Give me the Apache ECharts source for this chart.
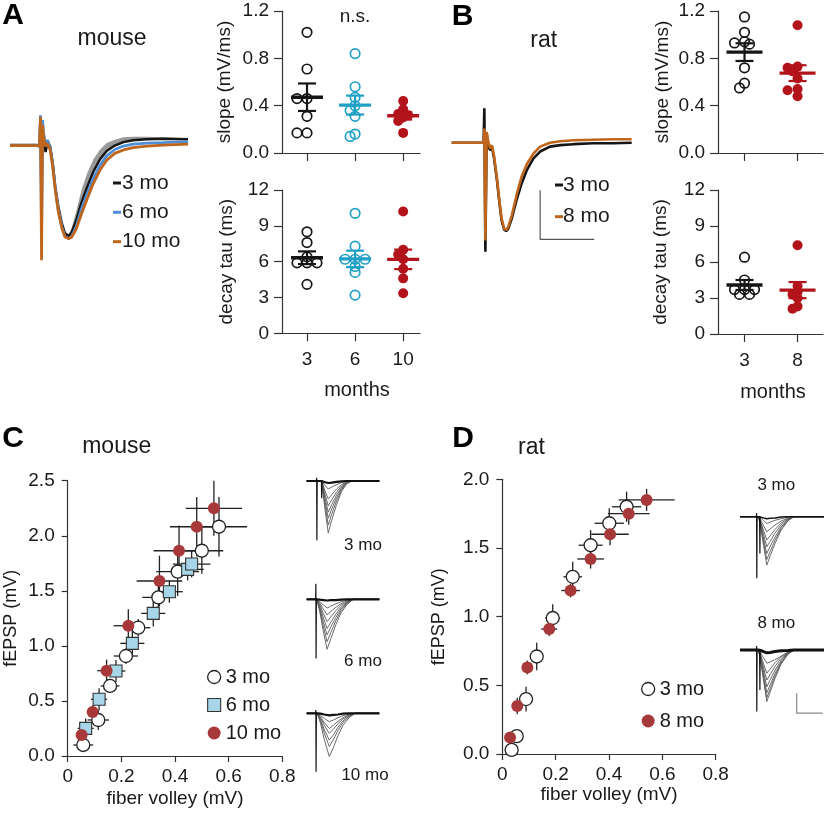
<!DOCTYPE html>
<html><head><meta charset="utf-8">
<script src="https://cdn.jsdelivr.net/npm/echarts@6/dist/echarts.min.js"></script>
<style>html,body{margin:0;padding:0;background:#fff}#c{width:828px;height:821px}</style>
</head><body><div id="c"></div>
<script>
const FONT = "'Liberation Sans', Arial, Helvetica, sans-serif";
const AX = '#333';
const TXT = '#1a1a1a';

// ---------- Panel A: mouse averaged fEPSP traces (ms, mV) ----------
const traceTimeA = [0, 5.2, 5.8, 6.0, 6.2, 6.4, 6.6, 7.0, 7.4, 7.9, 8.4, 8.9, 9.5, 10.2, 10.8, 11.5, 12.1, 13.0, 14.1, 15.2, 16.4, 17.7, 19.0, 20.6, 22.3, 24.2, 26.9, 30.1, 35];
const trace3moA = [0, 0, -0.01, 0.58, -1.39, 0.37, 0.10, -0.14, 0.07, -0.03, -0.37, -0.85, -1.26, -1.60, -1.80, -1.86, -1.79, -1.54, -1.16, -0.85, -0.54, -0.29, -0.12, -0.01, 0.06, 0.10, 0.12, 0.13, 0.12];
const sem3moA = [0, 0, 0, 0, 0, 0, 0, 0, 0, 0, 0, 0, 0, 0.02, 0.03, 0.04, 0.08, 0.18, 0.26, 0.28, 0.25, 0.2, 0.16, 0.12, 0.1, 0.07, 0.05, 0.03, 0.02];
const trace6moA = [-0.01, -0.01, -0.02, 0.61, -1.80, 0.51, 0.24, 0.03, 0.10, -0.07, -0.41, -0.88, -1.33, -1.67, -1.86, -1.91, -1.87, -1.67, -1.29, -0.99, -0.68, -0.41, -0.22, -0.09, -0.02, 0.02, 0.04, 0.05, 0.07];
const trace10moA = [-0.01, -0.01, -0.02, 0.58, -2.35, 0.41, 0.17, -0.03, 0.03, -0.10, -0.44, -0.92, -1.36, -1.70, -1.87, -1.91, -1.88, -1.72, -1.39, -1.09, -0.78, -0.51, -0.31, -0.17, -0.10, -0.05, -0.02, 0.00, 0.02];

// ---------- Panel B: rat averaged fEPSP traces ----------
const traceTimeB = [0, 5.5, 6.2, 6.35, 6.55, 6.8, 7.1, 7.5, 7.8, 8.2, 8.8, 9.3, 9.7, 10.2, 10.6, 11.0, 11.7, 12.6, 13.6, 14.6, 15.9, 17.2, 19.1, 21.1, 23.7, 27.5, 31.4, 35];
const trace3moB = [0, 0, 0, 0.70, -2.22, 0.19, -0.08, -0.15, -0.08, -0.29, -0.76, -1.24, -1.58, -1.77, -1.80, -1.75, -1.54, -1.17, -0.83, -0.56, -0.32, -0.18, -0.08, -0.05, -0.03, -0.01, -0.01, 0];
const trace8moB = [0, 0, 0, 0.29, -1.99, 0.22, 0.02, -0.12, -0.05, -0.25, -0.73, -1.20, -1.54, -1.75, -1.78, -1.71, -1.48, -1.07, -0.69, -0.44, -0.22, -0.08, 0, 0.03, 0.05, 0.06, 0.07, 0.07];
const scaleBarB_t = [17.2, 17.2, 27.7];
const scaleBarB_v = [-0.97, -1.97, -1.97];

// ---------- Dot plots ----------
const monthsMouse = ['3', '6', '10'];
const monthsRat = ['3', '8'];
const slopeMouse3 = [1.02, 0.71, 0.46, 0.46, 0.31, 0.17, 0.17];
const slopeMouse6 = [0.84, 0.56, 0.47, 0.40, 0.36, 0.31, 0.16, 0.14];
const slopeMouse10 = [0.44, 0.37, 0.33, 0.32, 0.30, 0.27, 0.17];
const tauMouse3 = [8.5, 7.6, 6.4, 5.9, 5.9, 5.9, 4.1];
const tauMouse6 = [10.05, 7.3, 6.2, 6.2, 6.2, 5.6, 5.1, 3.2];
const tauMouse10 = [10.2, 7.0, 6.6, 6.2, 5.4, 4.6, 3.35];
const slopeRat3 = [1.15, 1.02, 0.94, 0.93, 0.92, 0.72, 0.59, 0.55];
const slopeRat8 = [1.08, 0.73, 0.72, 0.69, 0.63, 0.54, 0.53, 0.48];
const tauRat3 = [6.4, 4.5, 3.7, 3.7, 3.7, 3.3, 3.3];
const tauRat8 = [7.4, 4.0, 3.5, 3.3, 3.0, 2.3, 2.1];

// ---------- Panel C: mouse input-output (fiber volley vs fEPSP, mean ± SEM) ----------
const c3x = [0.058, 0.114, 0.158, 0.217, 0.263, 0.338, 0.41, 0.50, 0.564];
const c3y = [0.10, 0.327, 0.636, 0.908, 1.165, 1.44, 1.674, 1.864, 2.082];
const c3xe = [0.037, 0.04, 0.035, 0.045, 0.045, 0.06, 0.08, 0.08, 0.105];
const c3ye = [0.03, 0.09, 0.06, 0.07, 0.08, 0.15, 0.22, 0.21, 0.27];
const c6x = [0.067, 0.117, 0.18, 0.241, 0.319, 0.379, 0.447, 0.462];
const c6y = [0.251, 0.515, 0.772, 1.023, 1.295, 1.492, 1.695, 1.743];
const c6xe = [0.03, 0.03, 0.035, 0.045, 0.045, 0.05, 0.06, 0.07];
const c6ye = [0.09, 0.1, 0.1, 0.12, 0.12, 0.1, 0.1, 0.12];
const c10x = [0.052, 0.093, 0.145, 0.226, 0.342, 0.415, 0.481, 0.545];
const c10y = [0.19, 0.40, 0.775, 1.183, 1.589, 1.864, 2.082, 2.249];
const c10xe = [0.02, 0.02, 0.035, 0.055, 0.085, 0.095, 0.1, 0.105];
const c10ye = [0.05, 0.06, 0.1, 0.15, 0.23, 0.23, 0.27, 0.25];

// ---------- Panel D: rat input-output ----------
const d3x = [0.035, 0.054, 0.089, 0.129, 0.189, 0.264, 0.331, 0.401, 0.466];
const d3y = [0.03, 0.13, 0.40, 0.71, 0.99, 1.29, 1.52, 1.68, 1.80];
const d3xe = [0.01, 0.012, 0.018, 0.02, 0.028, 0.035, 0.045, 0.055, 0.055];
const d3ye = [0.02, 0.03, 0.09, 0.1, 0.1, 0.11, 0.11, 0.11, 0.11];
const d8x = [0.029, 0.056, 0.094, 0.176, 0.256, 0.331, 0.404, 0.474, 0.541];
const d8y = [0.12, 0.35, 0.63, 0.91, 1.19, 1.42, 1.60, 1.75, 1.85];
const d8xe = [0.01, 0.015, 0.02, 0.03, 0.035, 0.05, 0.07, 0.078, 0.105];
const d8ye = [0.02, 0.06, 0.05, 0.05, 0.05, 0.07, 0.08, 0.08, 0.08];

// ---------- Example input-output trace families ----------
const ioTimeC3 = [0, 7.4, 9.1, 10.7, 12.4, 14.8, 17.3, 19.8, 22.3, 36];
const ioTracesC3 = [
  [0, 0, -0.03, -0.05, -0.04, -0.02, -0.01, 0, 0, 0],
  [0, 0, -0.11, -0.2, -0.15, -0.09, -0.04, -0.01, 0, 0],
  [0, 0, -0.25, -0.45, -0.34, -0.2, -0.09, -0.02, 0, 0],
  [0, 0, -0.34, -0.62, -0.47, -0.28, -0.12, -0.03, 0, 0],
  [0, 0, -0.43, -0.78, -0.59, -0.35, -0.16, -0.04, 0, 0],
  [0, 0, -0.51, -0.93, -0.7, -0.42, -0.19, -0.05, 0, 0],
  [0, 0, -0.61, -1.1, -0.83, -0.5, -0.22, -0.06, 0, 0],
  [0, 0, -0.72, -1.3, -0.98, -0.59, -0.26, -0.07, 0, 0]
];
const ioArtC3_t = [4.8, 4.95, 5.05, 5.2, 7.3, 7.45, 7.6];
const ioArtC3_v = [0, 0.08, -1.48, 0, 0, -0.43, 0];

const ioTimeC6 = [0, 5.0, 6.5, 8.3, 10.1, 12, 14.5, 17, 20, 23, 36];
const ioTracesC6 = [
  [0, 0, -0.01, -0.02, -0.03, -0.02, -0.02, -0.01, 0, 0, 0],
  [0, 0, -0.06, -0.14, -0.22, -0.17, -0.11, -0.06, -0.02, 0, 0],
  [0, 0, -0.1, -0.25, -0.39, -0.3, -0.2, -0.11, -0.04, 0, 0],
  [0, 0, -0.14, -0.36, -0.56, -0.44, -0.28, -0.15, -0.06, 0, 0],
  [0, 0, -0.18, -0.47, -0.73, -0.57, -0.37, -0.2, -0.07, 0, 0],
  [0, 0, -0.22, -0.58, -0.89, -0.69, -0.45, -0.24, -0.09, 0, 0],
  [0, 0, -0.27, -0.69, -1.06, -0.83, -0.53, -0.29, -0.11, 0, 0],
  [0, 0, -0.31, -0.81, -1.25, -0.98, -0.63, -0.34, -0.13, 0, 0]
];
const ioArtC6_t = [4.45, 4.55, 4.65, 4.8];
const ioArtC6_v = [0, 0.4, -1.48, 0];

const ioTimeC10 = [0, 5.2, 6.8, 8.8, 11.2, 13.2, 15.5, 18, 21, 24, 36];
const ioTracesC10 = [
  [0, 0, -0.01, -0.03, -0.05, -0.04, -0.03, -0.01, 0, 0, 0],
  [0, 0, -0.05, -0.13, -0.21, -0.17, -0.11, -0.06, -0.02, 0, 0],
  [0, 0, -0.08, -0.24, -0.38, -0.3, -0.2, -0.11, -0.04, 0, 0],
  [0, 0, -0.11, -0.31, -0.5, -0.4, -0.26, -0.14, -0.05, 0, 0],
  [0, 0, -0.15, -0.42, -0.67, -0.54, -0.35, -0.19, -0.07, 0, 0],
  [0, 0, -0.18, -0.51, -0.83, -0.66, -0.43, -0.23, -0.08, 0, 0],
  [0, 0, -0.24, -0.67, -1.08, -0.86, -0.56, -0.3, -0.11, 0, 0]
];
const ioArtC10_t = [4.45, 4.55, 4.65, 4.8];
const ioArtC10_v = [0, 0.08, -1.46, 0];

const ioTimeD = [0, 9.2, 10.3, 11.8, 13.4, 15, 17.5, 20.5, 24, 27, 42];
const ioTracesD3 = [
  [0, 0, -0.01, -0.03, -0.05, -0.04, -0.03, -0.01, 0, 0, 0],
  [0, 0, -0.03, -0.1, -0.17, -0.14, -0.09, -0.05, -0.01, 0, 0],
  [0, 0, -0.08, -0.23, -0.38, -0.31, -0.21, -0.11, -0.03, 0, 0],
  [0, 0, -0.12, -0.35, -0.58, -0.48, -0.32, -0.16, -0.05, 0, 0],
  [0, 0, -0.15, -0.45, -0.75, -0.62, -0.41, -0.21, -0.06, 0, 0],
  [0, 0, -0.18, -0.55, -0.92, -0.75, -0.51, -0.26, -0.07, 0, 0],
  [0, 0, -0.21, -0.64, -1.07, -0.88, -0.59, -0.3, -0.09, 0, 0],
  [0, 0, -0.24, -0.73, -1.21, -0.99, -0.67, -0.34, -0.1, 0, 0]
];
const ioArtD3_t = [8.2, 8.3, 8.4, 8.55, 9.8, 9.95, 10.1];
const ioArtD3_v = [0, 0.09, -1.54, 0, 0, -0.92, 0];
const ioTracesD8 = [
  [0, 0, -0.01, -0.04, -0.07, -0.06, -0.04, -0.02, -0.01, 0, 0],
  [0, 0, -0.07, -0.2, -0.33, -0.3, -0.24, -0.16, -0.06, 0, 0],
  [0, 0, -0.12, -0.35, -0.58, -0.48, -0.32, -0.16, -0.05, 0, 0],
  [0, 0, -0.15, -0.45, -0.75, -0.62, -0.41, -0.21, -0.06, 0, 0],
  [0, 0, -0.18, -0.55, -0.92, -0.75, -0.51, -0.26, -0.07, 0, 0],
  [0, 0, -0.21, -0.64, -1.07, -0.88, -0.59, -0.3, -0.09, 0, 0],
  [0, 0, -0.24, -0.71, -1.19, -0.98, -0.65, -0.33, -0.1, 0, 0],
  [0, 0, -0.26, -0.77, -1.29, -1.06, -0.71, -0.36, -0.1, 0, 0]
];
const ioArtD8_t = [8.2, 8.3, 8.4, 8.55, 9.8, 9.95, 10.1];
const ioArtD8_v = [0, 0.1, -1.54, 0, 0, -1.0, 0];
const scaleBarD_t = [28.35, 28.35, 41.35];
const scaleBarD_v = [-1.08, -1.58, -1.58];

// ---------- colours ----------
const C_BLACK = '#151515', C_BLUE = '#4d8fd8', C_ORANGE = '#c0661c';
const C_CYAN = '#1fa0c4', C_RED = '#b3141b', C_DOT_RED = '#a8393a', C_SQ = '#a6d6e8';

// ---------- helpers ----------
const mean = a => a.reduce((s, v) => s + v, 0) / a.length;
const sem = a => { const m = mean(a); return Math.sqrt(a.reduce((s, v) => s + (v - m) * (v - m), 0) / (a.length - 1) / a.length); };

function swarm(vals, pxX, pxY) {
  const coll = 5.5, cands = [0, -5, 5, -10, 10, -15, 15, -20, 20];
  const placed = [];
  return vals.map(v => {
    for (const c of cands) {
      if (placed.every(p => Math.hypot(p[0] - c, (p[1] - v) * pxY) >= coll)) { placed.push([c, v]); return c / pxX; }
    }
    placed.push([0, v]); return 0;
  });
}

const grids = [
  {left: 10, top: 100, width: 178, height: 170},
  {left: 282, top: 11, width: 138, height: 142},
  {left: 282, top: 190, width: 138, height: 143.3},
  {left: 451.7, top: 100, width: 180, height: 160},
  {left: 718, top: 11, width: 105, height: 142},
  {left: 718, top: 190, width: 105, height: 144},
  {left: 67.7, top: 480.7, width: 214.6, height: 275.3},
  {left: 306.7, top: 466, width: 72.6, height: 80},
  {left: 306.7, top: 584.3, width: 72.6, height: 80},
  {left: 306.7, top: 698.3, width: 72.6, height: 80},
  {left: 502.3, top: 479.3, width: 213.4, height: 274.7},
  {left: 740, top: 501.7, width: 84, height: 80},
  {left: 740, top: 635, width: 84, height: 80}
].map(g => Object.assign({outerBoundsMode: 'none', containLabel: false}, g));

const lineStyleAx = {color: AX, width: 1.2};
function hidden(gi, min, max) { return {gridIndex: gi, type: 'value', min, max, show: false}; }
function dotX(gi, min, max, labels, showLabels) {
  const vals = labels.map((_, i) => i + 1);
  return {gridIndex: gi, type: 'value', min, max, splitLine: {show: false},
    axisLine: {show: true, onZero: false, lineStyle: lineStyleAx},
    axisTick: {show: true, customValues: vals, length: 8, lineStyle: lineStyleAx},
    axisLabel: {show: showLabels, customValues: vals, formatter: v => labels[Math.round(v) - 1] || '', margin: 17, fontSize: 19, color: TXT, fontFamily: FONT}};
}
function dotY(gi, max, interval, dec, name, gap) {
  return {gridIndex: gi, type: 'value', min: 0, max, interval, name, nameLocation: 'middle', nameGap: gap,
    nameTextStyle: {fontSize: 19, color: TXT, fontFamily: FONT}, splitLine: {show: false},
    axisLine: {show: true, lineStyle: lineStyleAx}, axisTick: {show: true, length: 8, lineStyle: lineStyleAx},
    axisLabel: {formatter: v => v.toFixed(dec), margin: 13, fontSize: 19, color: TXT, fontFamily: FONT}};
}
function ioX(gi, name, gap) {
  return {gridIndex: gi, type: 'value', min: 0, max: 0.8, interval: 0.2, name, nameLocation: 'middle', nameGap: gap,
    nameTextStyle: {fontSize: 19, color: TXT, fontFamily: FONT}, splitLine: {show: false},
    axisLine: {show: true, onZero: false, lineStyle: lineStyleAx}, axisTick: {show: true, length: 6, lineStyle: lineStyleAx},
    axisLabel: {formatter: v => v === 0 ? '0' : v.toFixed(1), margin: 11, fontSize: 19, color: TXT, fontFamily: FONT}};
}
function ioY(gi, max, name, gap) {
  return {gridIndex: gi, type: 'value', min: 0, max, interval: 0.5, name, nameLocation: 'middle', nameGap: gap,
    nameTextStyle: {fontSize: 18, color: TXT, fontFamily: FONT}, splitLine: {show: false},
    axisLine: {show: true, onZero: false, lineStyle: lineStyleAx}, axisTick: {show: true, length: 6, lineStyle: lineStyleAx},
    axisLabel: {formatter: v => v.toFixed(1), margin: 13, fontSize: 19, color: TXT, fontFamily: FONT}};
}

const xAxis = [
  hidden(0, 0, 35), dotX(1, 0.48, 3.35, monthsMouse, false), dotX(2, 0.48, 3.35, monthsMouse, true),
  hidden(3, 0, 35), dotX(4, 0.5, 2.48, monthsRat, false), dotX(5, 0.5, 2.48, monthsRat, true),
  ioX(6, 'fiber volley (mV)', 33), hidden(7, 0, 36), hidden(8, 0, 36), hidden(9, 0, 36),
  ioX(10, 'fiber volley (mV)', 31), hidden(11, 0, 42), hidden(12, 0, 42)
];
const yAxis = [
  hidden(0, -2.55, 0.92), dotY(1, 1.2, 0.4, 1, 'slope (mV/ms)', 48), dotY(2, 12, 3, 0, 'decay tau (ms)', 46),
  hidden(3, -2.39, 0.87), dotY(4, 1.2, 0.4, 1, 'slope (mV/ms)', 46), dotY(5, 12, 3, 0, 'decay tau (ms)', 48),
  ioY(6, 2.5, 'fEPSP (mV)', 48), hidden(7, -1.625, 0.375), hidden(8, -1.625, 0.375), hidden(9, -1.625, 0.375),
  ioY(10, 2.0, 'fEPSP (mV)', 54), hidden(11, -1.625, 0.375), hidden(12, -1.625, 0.375)
];

const series = [];
function line(gi, ts, vs, color, width, z, extra) {
  series.push(Object.assign({type: 'line', xAxisIndex: gi, yAxisIndex: gi, data: ts.map((t, i) => [t, vs[i]]),
    symbol: 'none', silent: true, animation: false, z: z || 2, lineStyle: {color, width}}, extra || {}));
}

// A traces: SEM band (polygon between mean trace and mean+SEM) then traces
series.push({type: 'custom', xAxisIndex: 0, yAxisIndex: 0, silent: true, animation: false, z: 1,
  data: traceTimeA.map((t, i) => [t, trace3moA[i], sem3moA[i]]), encode: {x: 0, y: 1},
  renderItem: (p, api) => {
    if (p.dataIndex !== 0) return null;
    const up = traceTimeA.map((t, i) => api.coord([t, trace3moA[i] + sem3moA[i]]));
    const lo = traceTimeA.map((t, i) => api.coord([t, trace3moA[i]])).reverse();
    return {type: 'polygon', shape: {points: up.concat(lo)}, style: {fill: '#9a9a9a'}};
  }});
line(0, traceTimeA, trace3moA, C_BLACK, 2.5, 3);
line(0, traceTimeA, trace6moA, C_BLUE, 2.8, 4);
line(0, traceTimeA, trace10moA, C_ORANGE, 2.8, 5);

// B traces
line(3, traceTimeB, trace3moB, C_BLACK, 2.6, 3);
line(3, traceTimeB, trace8moB, C_ORANGE, 2.6, 4);
line(3, scaleBarB_t, scaleBarB_v, '#555', 1.2, 3);

// dot plots
function dotGroup(gi, xpos, vals, color, filled, pxX, pxY, halfW) {
  const off = swarm(vals, pxX, pxY);
  series.push({type: 'scatter', xAxisIndex: gi, yAxisIndex: gi, silent: true, animation: false, z: 3,
    data: vals.map((v, i) => [xpos + off[i], v]), symbol: 'circle', symbolSize: filled ? 10 : 9.5,
    itemStyle: filled ? {color, opacity: 1} : {color: 'rgba(255,255,255,0)', borderColor: color, borderWidth: 1.7, opacity: 1}});
  const m = mean(vals), s = sem(vals);
  series.push({type: 'custom', xAxisIndex: gi, yAxisIndex: gi, silent: true, animation: false, z: 5,
    data: [[xpos, m, s]], encode: {x: 0, y: 1},
    renderItem: (p, api) => {
      const x = api.value(0), mm = api.value(1), ss = api.value(2);
      const c = api.coord([x, mm]), t = api.coord([x, mm + ss]), b = api.coord([x, mm - ss]);
      const cap = 9, st = {stroke: color, lineWidth: 2.2};
      return {type: 'group', children: [
        {type: 'line', shape: {x1: t[0], y1: t[1], x2: b[0], y2: b[1]}, style: st},
        {type: 'line', shape: {x1: t[0] - cap, y1: t[1], x2: t[0] + cap, y2: t[1]}, style: st},
        {type: 'line', shape: {x1: b[0] - cap, y1: b[1], x2: b[0] + cap, y2: b[1]}, style: st},
        {type: 'line', shape: {x1: c[0] - halfW, y1: c[1], x2: c[0] + halfW, y2: c[1]}, style: {stroke: color, lineWidth: 3.4}}
      ]};
    }});
}
dotGroup(1, 1, slopeMouse3, C_BLACK, false, 48.1, 118.3, 16);
dotGroup(1, 2, slopeMouse6, C_CYAN, false, 48.1, 118.3, 16);
dotGroup(1, 3, slopeMouse10, C_RED, true, 48.1, 118.3, 16);
dotGroup(2, 1, tauMouse3, C_BLACK, false, 48.1, 11.94, 16);
dotGroup(2, 2, tauMouse6, C_CYAN, false, 48.1, 11.94, 16);
dotGroup(2, 3, tauMouse10, C_RED, true, 48.1, 11.94, 16);
dotGroup(4, 1, slopeRat3, C_BLACK, false, 53, 118.3, 18);
dotGroup(4, 2, slopeRat8, C_RED, true, 53, 118.3, 18);
dotGroup(5, 1, tauRat3, C_BLACK, false, 53, 12, 18);
dotGroup(5, 2, tauRat8, C_RED, true, 53, 12, 18);

// input-output scatter with error bars
function errBars(gi, xs, ys, xe, ye) {
  series.push({type: 'custom', xAxisIndex: gi, yAxisIndex: gi, silent: true, animation: false, z: 2,
    data: xs.map((x, i) => [x, ys[i], xe[i], ye[i]]), encode: {x: 0, y: 1},
    renderItem: (p, api) => {
      const x = api.value(0), y = api.value(1), ex = api.value(2), ey = api.value(3);
      const l = api.coord([x - ex, y]), r = api.coord([x + ex, y]), t = api.coord([x, y + ey]), b = api.coord([x, y - ey]);
      const st = {stroke: '#222', lineWidth: 1.3};
      return {type: 'group', children: [
        {type: 'line', shape: {x1: l[0], y1: l[1], x2: r[0], y2: r[1]}, style: st},
        {type: 'line', shape: {x1: t[0], y1: t[1], x2: b[0], y2: b[1]}, style: st}]};
    }});
}
function pts(gi, name, xs, ys, symbol, size, itemStyle) {
  series.push({type: 'scatter', name, xAxisIndex: gi, yAxisIndex: gi, silent: true, animation: false, z: 4,
    data: xs.map((x, i) => [x, ys[i]]), symbol, symbolSize: size, itemStyle: Object.assign({opacity: 1}, itemStyle)});
}
const OPEN = {color: '#fff', borderColor: '#222', borderWidth: 1.3};
const SQ = {color: C_SQ, borderColor: '#333', borderWidth: 1.1};
const RED = {color: C_DOT_RED};
errBars(6, c3x, c3y, c3xe, c3ye); errBars(6, c6x, c6y, c6xe, c6ye); errBars(6, c10x, c10y, c10xe, c10ye);
pts(6, '3 mo', c3x, c3y, 'circle', 13, OPEN);
pts(6, '6 mo', c6x, c6y, 'rect', 12, SQ);
pts(6, '10 mo', c10x, c10y, 'circle', 12, RED);
errBars(10, d3x, d3y, d3xe, d3ye); errBars(10, d8x, d8y, d8xe, d8ye);
pts(10, '3 mo', d3x, d3y, 'circle', 13, OPEN);
pts(10, '8 mo', d8x, d8y, 'circle', 12, RED);

// example trace families
function family(gi, ts, traces, artT, artV, baseW) {
  traces.forEach((tr, k) => line(gi, ts, tr, k === 0 ? '#111' : '#5a5a5a', k === 0 ? baseW : 0.9, k === 0 ? 3 : 2));
  line(gi, artT, artV, '#111', 1.2, 4);
}
family(7, ioTimeC3, ioTracesC3, ioArtC3_t, ioArtC3_v, 2.2);
family(8, ioTimeC6, ioTracesC6, ioArtC6_t, ioArtC6_v, 2.2);
family(9, ioTimeC10, ioTracesC10, ioArtC10_t, ioArtC10_v, 2.2);
family(11, ioTimeD, ioTracesD3, ioArtD3_t, ioArtD3_v, 1.5);
family(12, ioTimeD, ioTracesD8, ioArtD8_t, ioArtD8_v, 3);
line(12, scaleBarD_t, scaleBarD_v, '#888', 1.2, 3);

// text annotations
function txt(text, x, y, size, opts) {
  return Object.assign({type: 'text', x, y, silent: true, style: Object.assign({text, fontSize: size, fontFamily: FONT, fill: TXT, align: 'center', verticalAlign: 'middle'}, (opts || {}).style || {})}, {z: 100});
}
function dash(x, y, color) { return {type: 'rect', silent: true, z: 100, shape: {x, y: y - 1.5, width: 8, height: 3}, style: {fill: color}}; }
const L = {style: {align: 'left'}};
const B = {style: {fontWeight: 'bold', fill: '#000'}};
const graphic = [
  txt('A', 13, 16, 30, B), txt('mouse', 112, 39, 23),
  dash(113, 183, C_BLACK), txt('3 mo', 122, 183, 21, L),
  dash(113, 212.3, C_BLUE), txt('6 mo', 122, 212.3, 21, L),
  dash(113, 241.7, C_ORANGE), txt('10 mo', 122, 241.7, 21, L),
  txt('n.s.', 355, 17, 19), txt('months', 357, 390, 20),
  txt('B', 462.5, 16.7, 30, B), txt('rat', 543.7, 41, 23),
  dash(555, 185, C_BLACK), txt('3 mo', 563, 185, 21, L),
  dash(555, 216.7, C_ORANGE), txt('8 mo', 563, 216.7, 21, L),
  txt('months', 773, 392, 20),
  txt('C', 13, 439, 30, B), txt('mouse', 116.7, 447, 23),
  txt('3 mo', 363, 545, 17), txt('6 mo', 363, 661.7, 17), txt('10 mo', 365, 775.7, 17),
  txt('D', 463, 439, 30, B), txt('rat', 531.5, 448, 23),
  txt('3 mo', 776.3, 485, 17), txt('8 mo', 776.3, 623.7, 17)
];

const legendText = {fontSize: 20, fontFamily: FONT, color: TXT};
const legend = [
  {orient: 'vertical', left: 207, top: 667, itemWidth: 13, itemHeight: 13, itemGap: 8, padding: 0, selectedMode: false,
    textStyle: legendText,
    data: [{name: '3 mo', icon: 'circle', itemStyle: OPEN}, {name: '6 mo', icon: 'rect', itemStyle: SQ}, {name: '10 mo', icon: 'circle', itemStyle: RED}]},
  {orient: 'vertical', left: 641, top: 679, itemWidth: 13, itemHeight: 13, itemGap: 12, padding: 0, selectedMode: false,
    textStyle: legendText,
    data: [{name: '3 mo', icon: 'circle', itemStyle: OPEN}, {name: '8 mo', icon: 'circle', itemStyle: RED}]}
];

const chart = echarts.init(document.getElementById('c'), null, {renderer: 'canvas'});
chart.setOption({backgroundColor: '#fff', animation: false, textStyle: {fontFamily: FONT}, grid: grids, xAxis, yAxis, series, graphic, legend});
</script></body></html>
